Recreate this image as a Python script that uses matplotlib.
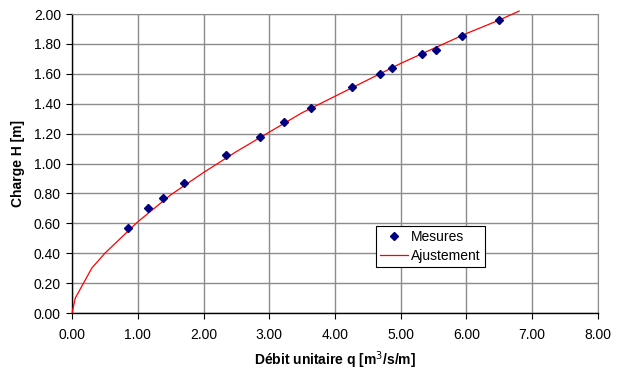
import matplotlib.pyplot as plt

plt.rcParams['font.family'] = ['Liberation Sans', 'DejaVu Sans']

# measured points
q_mes = [0.85, 1.15, 1.39, 1.71, 2.34, 2.86, 3.22, 3.64, 4.26, 4.68, 4.86, 5.32, 5.53, 5.93, 6.49]
h_mes = [0.57, 0.70, 0.77, 0.87, 1.06, 1.18, 1.28, 1.37, 1.51, 1.60, 1.64, 1.73, 1.76, 1.85, 1.96]

# fitted curve
q_fit = [0.0, 0.05, 0.3, 0.5, 1.0, 1.5, 2.0, 2.5, 3.0, 3.5, 4.0, 4.5, 5.0, 5.5, 6.0, 6.5, 6.8]
h_fit = [0.0, 0.10, 0.30, 0.40, 0.61, 0.79, 0.94, 1.08, 1.21, 1.34, 1.45, 1.56, 1.67, 1.77, 1.87, 1.96, 2.02]

xticks = [0, 1, 2, 3, 4, 5, 6, 7, 8]
yticks = [0.0, 0.2, 0.4, 0.6, 0.8, 1.0, 1.2, 1.4, 1.6, 1.8, 2.0]

fig = plt.figure(figsize=(6.24, 3.70), dpi=100)
ax = fig.add_axes([0.1154, 0.154, 0.8429, 0.808])

ax.plot(q_mes, h_mes, linestyle='none', marker='D', markersize=4.5,
        color='#000080', label='Mesures', zorder=4)
ax.plot(q_fit, h_fit, color='#ff0000', lw=0.9, label='Ajustement',
        zorder=3, clip_on=False)

ax.set_xlim(0, 8)
ax.set_ylim(0, 2)
ax.set_xticks(xticks)
ax.set_yticks(yticks)
ax.set_xticklabels([f'{v:.2f}' for v in xticks])
ax.set_yticklabels([f'{v:.2f}' for v in yticks])
ax.tick_params(labelsize=10, direction='out', length=4, width=0.8, colors='black')
ax.tick_params(axis='x', pad=7)
ax.tick_params(axis='y', pad=4)

ax.grid(True, color='#8c8c8c', lw=1.0)
ax.set_axisbelow(True)
for s in ['top', 'right']:
    ax.spines[s].set_color('#8c8c8c')
for s in ['left', 'bottom']:
    ax.spines[s].set_color('black')
    ax.spines[s].set_linewidth(1.0)

ax.set_xlabel('Débit unitaire q [m$^3$/s/m]', fontsize=10, fontweight='bold', labelpad=5)
ax.set_ylabel('Charge H [m]', fontsize=10, fontweight='bold', labelpad=6)

leg = ax.legend(loc='center', bbox_to_anchor=(0.6815, 0.2225),
                fontsize=10, fancybox=False, framealpha=1,
                edgecolor='black', borderaxespad=0, handlelength=2.0,
                numpoints=1, borderpad=0.3, labelspacing=0.4, handletextpad=0.25)
leg.get_frame().set_linewidth(0.8)

fig.savefig('out.png', dpi=100)
